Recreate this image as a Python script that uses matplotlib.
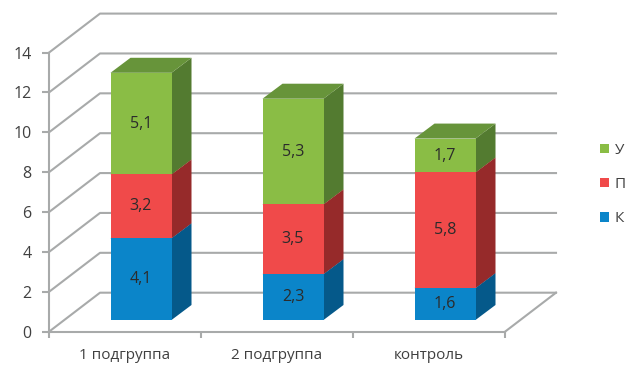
import matplotlib
matplotlib.use('Agg')
import matplotlib.pyplot as plt
from matplotlib.patches import Polygon, Patch

plt.rcParams['font.family'] = ['Open Sans', 'DejaVu Sans']

groups = ['1 подгруппа', '2 подгруппа', 'контроль']
series_names = ['К', 'П', 'У']
k_values = [4.1, 2.3, 1.6]
p_values = [3.2, 3.5, 5.8]
u_values = [5.1, 5.3, 1.7]
y_ticks = [0, 2, 4, 6, 8, 10, 12, 14]

# front, top, side shades per series
colors = {
    'К': ('#0b85c9', '#0b6ea6', '#05598a'),
    'П': ('#f04a4a', '#c43a3a', '#962a2a'),
    'У': ('#8abd45', '#67943a', '#537b30'),
}

W, H = 636, 367
fig = plt.figure(figsize=(W / 100, H / 100), dpi=100)
# plot box in pixels: x 49..505, y 331.7..52.6
ax = fig.add_axes([49 / W, 1 - 331.7 / H, 456 / W, 279.1 / H])
ax.set_xlim(0, 3)
ax.set_ylim(0, 14)

grid = '#a8aaaa'
line_w = 1.5
wall_dx = 51 / 152
wall_dy = 39 / 19.93
for y in y_ticks:
    ax.plot([0, wall_dx, 3 + wall_dx], [y, y + wall_dy, y + wall_dy],
            color=grid, lw=line_w, clip_on=False, zorder=1)
ax.plot([3, 3 + wall_dx], [0, wall_dy], color=grid, lw=line_w, clip_on=False, zorder=1)

bar_w = 61 / 152
bar_dx = 20 / 152
bar_dy = 15 / 19.93
shift_x = 16 / 152 - bar_w / 2
base_y = 11.7 / 19.93


def draw_segment(x0, y0, h, shades, z):
    front, top, side = shades
    x1 = x0 + bar_w
    y1 = y0 + h
    ax.add_patch(Polygon([(x1, y0), (x1 + bar_dx, y0 + bar_dy), (x1 + bar_dx, y1 + bar_dy), (x1, y1)],
                         fc=side, ec='none', clip_on=False, zorder=z))
    ax.add_patch(Polygon([(x0, y1), (x0 + bar_dx, y1 + bar_dy), (x1 + bar_dx, y1 + bar_dy), (x1, y1)],
                         fc=top, ec='none', clip_on=False, zorder=z))
    ax.add_patch(Polygon([(x0, y0), (x1, y0), (x1, y1), (x0, y1)],
                         fc=front, ec='none', clip_on=False, zorder=z + 0.1))


for i in range(len(groups)):
    x0 = i + 0.5 + shift_x
    bottom = base_y
    for j, (name, vals) in enumerate(zip(series_names, [k_values, p_values, u_values])):
        v = vals[i]
        draw_segment(x0, bottom, v, colors[name], 3 + j)
        ax.text(x0 + bar_w / 2, bottom + v / 2, str(v).replace('.', ','),
                ha='center', va='center', fontsize=11.5, color='#2b2b2b', zorder=10)
        bottom += v

ax.set_yticks(y_ticks)
ax.set_xticks([0, 1, 2, 3])
ax.set_xticklabels([])
ax.set_xticks([0.5, 1.5, 2.5], minor=True)
ax.set_xticklabels(groups, minor=True, fontsize=11, color='#404040')
ax.tick_params(axis='x', which='minor', length=0, pad=12)
ax.tick_params(axis='x', which='major', length=4, width=line_w, color=grid)
ax.tick_params(axis='y', length=5, width=line_w, color=grid, labelsize=11.5, labelcolor='#404040', pad=7.5)
for s in ['top', 'right']:
    ax.spines[s].set_visible(False)
for s in ['left', 'bottom']:
    ax.spines[s].set_color(grid)
    ax.spines[s].set_linewidth(line_w)
ax.patch.set_alpha(0)

handles = [Patch(fc=colors[n][0], ec='none', label=n) for n in reversed(series_names)]
fig.legend(handles=handles, loc='center left', bbox_to_anchor=(600 / W, 1 - 184.5 / H),
           frameon=False, fontsize=11, labelcolor='#404040', handlelength=0.6, handleheight=0.6,
           handletextpad=0.35, labelspacing=1.25, borderpad=0, borderaxespad=0)

fig.savefig('out.png', dpi=100)
